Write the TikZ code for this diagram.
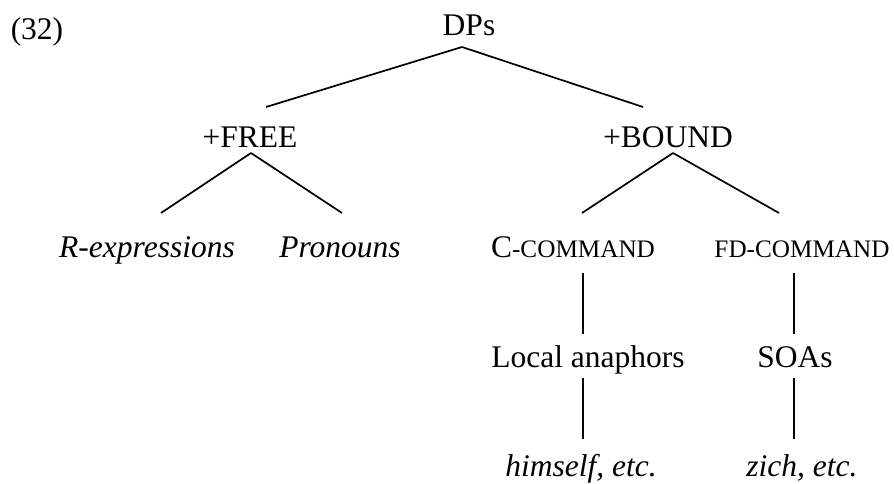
\documentclass[tikz,border=0pt]{standalone}
\usepackage{fontspec}
\setmainfont{Liberation Serif}
\newcommand\fakesc[1]{{\fontsize{25.2}{30}\selectfont #1}}
\begin{document}
\begin{tikzpicture}[x=1pt,y=-1pt,
  lab/.style={anchor=base,inner sep=0pt,font=\fontsize{31.5}{36}\selectfont},
  edge/.style={line width=1.7pt}]
\useasboundingbox (0,0) rectangle (894,484);
\node[lab] (ex) at (37,40) {(32)};
\node[lab] (dps) at (469,36) {DPs};
\node[lab] (free) at (250,147) {+FREE};
\node[lab] (bound) at (668,147) {+BOUND};
\node[lab] (rexp) at (147,257) {\textit{R-expressions}};
\node[lab] (pron) at (340,257) {\textit{Pronouns}};
\node[lab] (ccom) at (573,257) {C\fakesc{-COMMAND}};
\node[lab] (fdcom) at (802,257) {\fakesc{FD-COMMAND}};
\node[lab] (local) at (588,367) {Local anaphors};
\node[lab] (soas) at (795,367) {SOAs};
\node[lab] (himself) at (581,476) {\textit{himself, etc.}};
\node[lab] (zich) at (802,476) {\textit{zich, etc.}};
\draw[edge] ([xshift=-7pt,yshift=-11pt]dps.base) -- ([xshift=16pt,yshift=40pt]free.base);
\draw[edge] ([xshift=-7pt,yshift=-11pt]dps.base) -- ([xshift=-25pt,yshift=40pt]bound.base);
\draw[edge] ([xshift=1pt,yshift=-6pt]free.base) -- ([xshift=14pt,yshift=44pt]rexp.base);
\draw[edge] ([xshift=1pt,yshift=-6pt]free.base) -- ([xshift=2pt,yshift=44pt]pron.base);
\draw[edge] ([xshift=5pt,yshift=-6pt]bound.base) -- ([xshift=9pt,yshift=44pt]ccom.base);
\draw[edge] ([xshift=5pt,yshift=-6pt]bound.base) -- ([xshift=-23pt,yshift=44pt]fdcom.base);
\draw[edge] ([xshift=10pt,yshift=-16pt]ccom.base) -- ([xshift=-5pt,yshift=33pt]local.base);
\draw[edge] ([xshift=-8pt,yshift=-16pt]fdcom.base) -- ([xshift=-1pt,yshift=33pt]soas.base);
\draw[edge] ([xshift=-5pt,yshift=-11pt]local.base) -- ([xshift=2pt,yshift=37pt]himself.base);
\draw[edge] ([xshift=-1pt,yshift=-11pt]soas.base) -- ([xshift=-8pt,yshift=37pt]zich.base);
\end{tikzpicture}
\end{document}
